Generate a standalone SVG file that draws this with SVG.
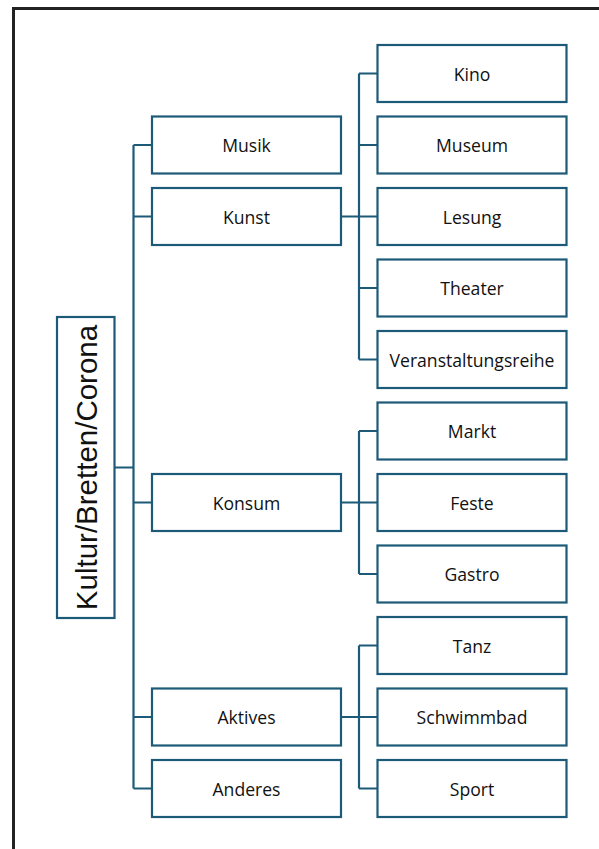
<svg xmlns="http://www.w3.org/2000/svg" width="599" height="849" viewBox="0 0 599 849">
<style>
.b{fill:#fff;stroke:#1d5a78;stroke-width:2.2}
.c{fill:none;stroke:#1d5a78;stroke-width:2.2}
.t{font-family:"Open Sans","Noto Sans",sans-serif;font-size:17.6px;fill:#111;text-anchor:middle;dominant-baseline:central}
.r{font-family:"Liberation Sans",Arial,sans-serif;font-size:29.5px;fill:#111;text-anchor:middle;dominant-baseline:central}
</style>
<rect width="599" height="849" fill="#fff"/>
<path d="M13.5,849 V8.5 H599" fill="none" stroke="#222" stroke-width="3"/>
<g id="connectors">
<path class="c" d="M115,467.5 H133.5 M133.5,145 V788.5 M133.5,145 H152 M133.5,216.5 H152 M133.5,502.5 H152 M133.5,717 H152 M133.5,788.5 H152"/>
<path class="c" d="M341,216.5 H377 M359,73.5 V359.5 M359,73.5 H377 M359,145 H377 M359,288 H377 M359,359.5 H377"/>
<path class="c" d="M341,502.5 H377 M359,431 V574 M359,431 H377 M359,574 H377"/>
<path class="c" d="M341,717 H377 M359,645.5 V788.5 M359,645.5 H377 M359,788.5 H377"/>
</g>
<g id="root"><rect class="b" x="57" y="317" width="57.5" height="301"/><text class="r" transform="translate(86,467.5) rotate(-90)">Kultur/Bretten/Corona</text></g>
<g id="musik"><rect class="b" x="152" y="116.5" width="189" height="57"/><text class="t" x="246.5" y="145">Musik</text></g>
<g id="kunst"><rect class="b" x="152" y="188" width="189" height="57"/><text class="t" x="246.5" y="216.5">Kunst</text></g>
<g id="konsum"><rect class="b" x="152" y="474" width="189" height="57"/><text class="t" x="246.5" y="502.5">Konsum</text></g>
<g id="aktives"><rect class="b" x="152" y="688.5" width="189" height="57"/><text class="t" x="246.5" y="717">Aktives</text></g>
<g id="anderes"><rect class="b" x="152" y="760" width="189" height="57"/><text class="t" x="246.5" y="788.5">Anderes</text></g>
<g id="kino"><rect class="b" x="377.5" y="45" width="189" height="57"/><text class="t" x="472" y="73.5">Kino</text></g>
<g id="museum"><rect class="b" x="377.5" y="116.5" width="189" height="57"/><text class="t" x="472" y="145">Museum</text></g>
<g id="lesung"><rect class="b" x="377.5" y="188" width="189" height="57"/><text class="t" x="472" y="216.5">Lesung</text></g>
<g id="theater"><rect class="b" x="377.5" y="259.5" width="189" height="57"/><text class="t" x="472" y="288">Theater</text></g>
<g id="veranstaltungsreihe"><rect class="b" x="377.5" y="331" width="189" height="57"/><text class="t" x="472" y="359.5">Veranstaltungsreihe</text></g>
<g id="markt"><rect class="b" x="377.5" y="402.5" width="189" height="57"/><text class="t" x="472" y="431">Markt</text></g>
<g id="feste"><rect class="b" x="377.5" y="474" width="189" height="57"/><text class="t" x="472" y="502.5">Feste</text></g>
<g id="gastro"><rect class="b" x="377.5" y="545.5" width="189" height="57"/><text class="t" x="472" y="574">Gastro</text></g>
<g id="tanz"><rect class="b" x="377.5" y="617" width="189" height="57"/><text class="t" x="472" y="645.5">Tanz</text></g>
<g id="schwimmbad"><rect class="b" x="377.5" y="688.5" width="189" height="57"/><text class="t" x="472" y="717">Schwimmbad</text></g>
<g id="sport"><rect class="b" x="377.5" y="760" width="189" height="57"/><text class="t" x="472" y="788.5">Sport</text></g>
</svg>
